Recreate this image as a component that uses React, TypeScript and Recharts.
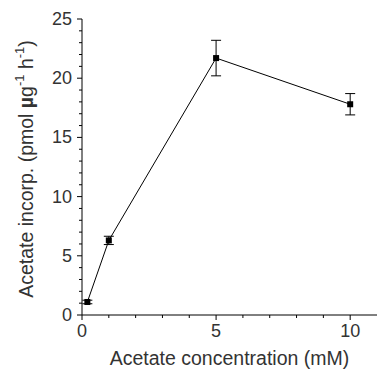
import React from "react";
import { LineChart, Line, XAxis, YAxis, ErrorBar } from "recharts";

const concentrations = [0.2, 1, 5, 10];
const incorporation = [1.1, 6.3, 21.7, 17.8];
const errors = [0.15, 0.35, 1.5, 0.9];

const xMajor = [0, 5, 10];
const xTicks = [0, 1, 2, 3, 4, 5, 6, 7, 8, 9, 10];
const yMajor = [0, 5, 10, 15, 20, 25];
const yTicks = Array.from({ length: 26 }, (_, i) => i);

const data = concentrations.map((c, i) => ({
    conc: c,
    value: incorporation[i],
    err: errors[i],
}));

const FONT = "'Liberation Sans', Arial, sans-serif";
const TEXT = "#333";

const XTick = ({ x, y, payload }: any) => {
    const major = xMajor.includes(payload.value);
    return (
        <g>
            <line x1={x} x2={x} y1={y} y2={y + (major ? 5 : 3)} stroke="#000" />
            {major && (
                <text x={x} y={y + 22} textAnchor="middle" fontSize={18} fontFamily={FONT} fill={TEXT}>
                    {payload.value}
                </text>
            )}
        </g>
    );
};

const YTick = ({ x, y, payload }: any) => {
    const major = yMajor.includes(payload.value);
    return (
        <g>
            <line x1={x} x2={x - (major ? 5 : 3)} y1={y} y2={y} stroke="#000" />
            {major && (
                <text x={x - 10} y={y + 6} textAnchor="end" fontSize={18} fontFamily={FONT} fill={TEXT}>
                    {payload.value}
                </text>
            )}
        </g>
    );
};

const SquareDot = ({ cx, cy }: any) => (
    <rect x={cx - 3} y={cy - 3} width={6} height={6} fill="#000" />
);

const XLabel = ({ viewBox }: any) => (
    <text
        x={viewBox.x + viewBox.width / 2}
        y={365}
        textAnchor="middle"
        fontSize={19.5}
        fontFamily={FONT}
        fill={TEXT}
    >
        Acetate concentration (mM)
    </text>
);

const YLabel = ({ viewBox }: any) => {
    const cx = 26;
    const cy = viewBox.y + viewBox.height / 2 + 2;
    return (
        <text
            x={cx}
            y={cy}
            transform={`rotate(-90 ${cx} ${cy})`}
            textAnchor="middle"
            dominantBaseline="central"
            fontSize={19.5}
            fontFamily={FONT}
            fill={TEXT}
        >
            Acetate incorp. (pmol <tspan fontWeight="bold">µ</tspan>g
            <tspan fontSize={13} dy={-7}>-1</tspan>
            <tspan dy={7}> h</tspan>
            <tspan fontSize={13} dy={-7}>-1</tspan>
            <tspan dy={7}>)</tspan>
        </text>
    );
};

export default function App() {
    return (
        <div style={{ position: "absolute", left: 0, top: 0 }}>
            <LineChart
                width={378}
                height={369}
                data={data}
                margin={{ top: 19, right: 1, left: 0, bottom: 0 }}
            >
                <XAxis
                    dataKey="conc"
                    type="number"
                    domain={[0, 11]}
                    ticks={xTicks}
                    interval={0}
                    tickSize={0}
                    tickMargin={0}
                    tick={<XTick />}
                    height={54}
                    stroke="#000"
                    label={{ content: <XLabel /> }}
                />
                <YAxis
                    type="number"
                    domain={[0, 25]}
                    ticks={yTicks}
                    interval={0}
                    tickSize={0}
                    tickMargin={0}
                    tick={<YTick />}
                    width={82}
                    stroke="#000"
                    label={{ content: <YLabel /> }}
                />
                <Line
                    type="linear"
                    dataKey="value"
                    stroke="#000"
                    strokeWidth={1}
                    dot={<SquareDot />}
                    isAnimationActive={false}
                >
                    <ErrorBar dataKey="err" direction="y" width={5} stroke="#000" strokeWidth={1} />
                </Line>
            </LineChart>
        </div>
    );
}
